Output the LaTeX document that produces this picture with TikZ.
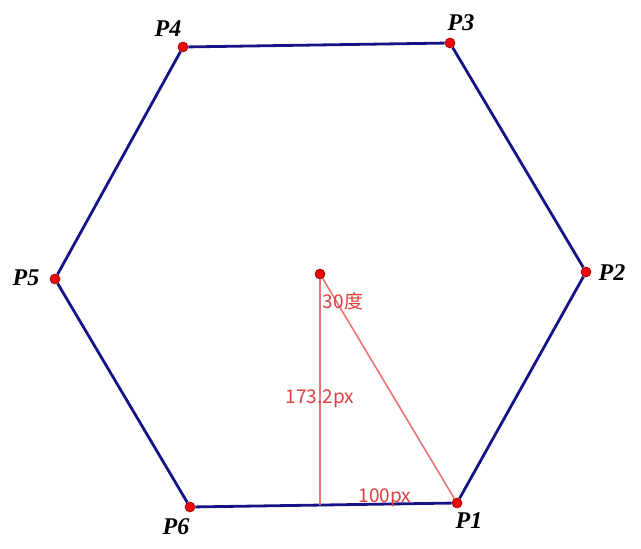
\documentclass[tikz,border=0pt]{standalone}
\usepackage{fontspec}
\setmainfont{Liberation Serif}
\newfontfamily\cjk{Noto Sans CJK SC}
\definecolor{hexblue}{RGB}{20,20,135}
\definecolor{auxred}{RGB}{235,115,115}
\definecolor{notered}{RGB}{222,62,62}
\definecolor{dotred}{RGB}{235,10,10}

\begin{document}
\begin{tikzpicture}[x=1pt,y=-1pt,
  edge/.style={draw=hexblue,line width=2.8pt},
  aux/.style={draw=auxred,line width=1.6pt},
  pt/.style={circle,fill=dotred,draw=red!60!black,line width=0.6pt,inner sep=0pt,minimum size=10pt},
  lab/.style={font=\fontsize{24}{24}\selectfont\bfseries\itshape},
  note/.style={text=notered,font=\cjk\fontsize{19}{19}\selectfont}]
  \useasboundingbox (0,0) rectangle (641,549);
  % corners of the hexagon and the centre
  \node[pt] (p1) at (457,503) {};
  \node[pt] (p2) at (586,272) {};
  \node[pt] (p3) at (450,43) {};
  \node[pt] (p4) at (183,47) {};
  \node[pt] (p5) at (55,279) {};
  \node[pt] (p6) at (190,507) {};
  \node[pt] (o) at (320,274) {};
  \coordinate (h) at (320,505);

  \draw[edge] (p1) -- (p2);
  \draw[edge] (p2) -- (p3);
  \draw[edge] (p3) -- (p4);
  \draw[edge] (p4) -- (p5);
  \draw[edge] (p5) -- (p6);
  \draw[edge] (p6) -- (p1);

  \draw[aux] (o) -- (h);
  \draw[aux] (o) -- (p1);

  \node[lab] (l1) at (469,521) {P1};
  \node[lab] (l2) at (612,273) {P2};
  \node[lab] (l3) at (461,23) {P3};
  \node[lab] (l4) at (168,29) {P4};
  \node[lab] (l5) at (26,278) {P5};
  \node[lab] (l6) at (176,527) {P6};

  \node[note] (angle) at (343,301) {30度};
  \node[note] (height) at (320,399) {173.2px};
  \node[note] (base) at (385,498) {100px};
\end{tikzpicture}
\end{document}
